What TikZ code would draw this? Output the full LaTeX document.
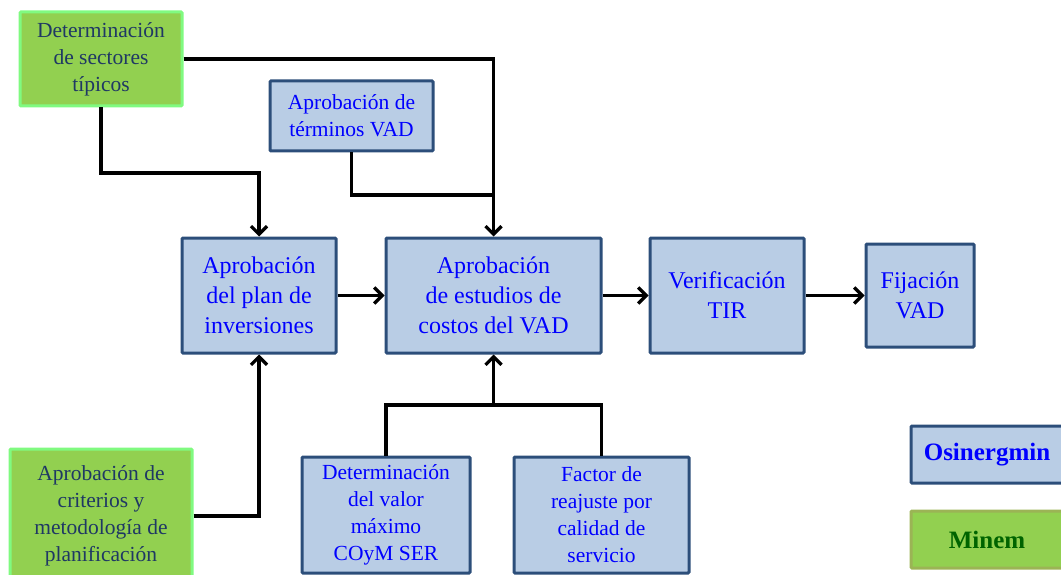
\documentclass[tikz,border=0pt]{standalone}
\usepackage{fontspec}
\setmainfont{Liberation Serif}
\usetikzlibrary{arrows.meta}
\definecolor{boxfill}{RGB}{185,205,229}
\definecolor{boxline}{RGB}{44,78,122}
\definecolor{boxtext}{RGB}{0,0,255}
\definecolor{grfill}{RGB}{146,208,80}
\definecolor{grline}{RGB}{128,250,128}
\definecolor{grtext}{RGB}{31,56,100}
\definecolor{mnline}{RGB}{155,180,85}
\definecolor{mntext}{RGB}{0,100,0}
\tikzset{
  bluebox/.style={draw=boxline, fill=boxfill, line width=3pt, text=boxtext,
    align=center, inner sep=0pt, rounded corners=1pt},
  greenbox/.style={draw=grline, fill=grfill, line width=3pt, text=grtext,
    align=center, inner sep=0pt, rounded corners=1pt},
  bigtxt/.style={font=\rmfamily\fontsize{24}{30}\selectfont},
  smalltxt/.style={font=\rmfamily\fontsize{21.5}{27}\selectfont},
  legendtxt/.style={font=\rmfamily\fontsize{25}{30}\selectfont\bfseries},
  link/.style={draw=black, line width=3.2pt},
  conn/.style={link, -{Straight Barb[length=8pt,width=16pt,line width=3.2pt]}},
}
\begin{document}
\begin{tikzpicture}[x=1pt,y=-1pt]
\useasboundingbox (0,0) rectangle (1061,575);
\clip (0,0) rectangle (1061,575);

% upper inputs
\node[greenbox, smalltxt, minimum width=162pt, minimum height=94pt] (sect) at (101,59)
  {Determinación\\de sectores\\típicos};
\node[bluebox, smalltxt, minimum width=163pt, minimum height=70pt] (term) at (351.5,116)
  {Aprobación de\\términos VAD};

% main chain
\node[bluebox, bigtxt, minimum width=154pt, minimum height=115pt] (plan) at (259,295.5)
  {Aprobación\\del plan de\\inversiones};
\node[bluebox, bigtxt, minimum width=215pt, minimum height=115pt] (est) at (493.5,295.5)
  {Aprobación\\de estudios de\\costos del VAD};
\node[bluebox, bigtxt, minimum width=154pt, minimum height=115pt] (tir) at (727,295.5)
  {Verificación\\TIR};
\node[bluebox, bigtxt, minimum width=108pt, minimum height=103pt] (fij) at (920,295.5)
  {Fijación\\VAD};

% lower inputs
\node[greenbox, smalltxt, minimum width=182pt, minimum height=134pt] (crit) at (101,516)
  {Aprobación de\\criterios y\\metodología de\\planificación};
\node[bluebox, smalltxt, minimum width=168pt, minimum height=116pt] (val) at (386,515)
  {Determinación\\del valor\\máximo\\COyM SER};
\node[bluebox, smalltxt, minimum width=175pt, minimum height=116pt] (fac) at (601.5,515)
  {Factor de\\reajuste por\\calidad de\\servicio};

% legend
\node[bluebox, legendtxt, minimum width=152pt, minimum height=57pt] (osi) at (987,454.5)
  {Osinergmin};
\node[draw=mnline, fill=grfill, line width=3pt, text=mntext, inner sep=0pt, rounded corners=1pt,
  legendtxt, minimum width=152pt, minimum height=57pt] (min) at (987,539.5)
  {Minem};

% junction points of the connectors
\coordinate (sj) at (101,173);
\coordinate (tj) at (493.5,195);
\coordinate (bj) at (493.5,405);

% connectors
\draw[conn] (sect.east) -| (est.north);
\draw[conn] (sect.south) -- (sj) -| (plan.north);
\draw[link] (term.south) |- (tj);
\draw[conn] (crit.east) -| (plan.south);
\draw[link] (val.north) |- (bj) -| (fac.north);
\draw[conn] (bj) -- (est.south);
\draw[conn] (plan.east) -- (est.west);
\draw[conn] (est.east) -- (tir.west);
\draw[conn] (tir.east) -- (fij.west);
\end{tikzpicture}
\end{document}
